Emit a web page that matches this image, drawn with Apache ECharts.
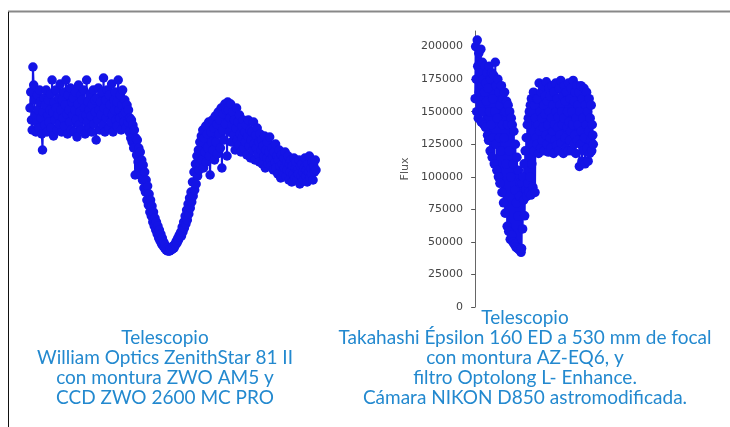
<!DOCTYPE html>
<html>
<head>
<meta charset="utf-8">
<script src="https://cdn.jsdelivr.net/npm/echarts@6/dist/echarts.min.js"></script>
<style>
  html, body { margin: 0; padding: 0; background: #fff; }
  #main { width: 730px; height: 427px; }
</style>
</head>
<body>
<div id="main"></div>
<script>
// left light curve (relative flux, no axes shown)
const leftFlux = [
  // out of eclipse
  152,168,140,130,193,175,160,145,128,138,165,150,132,170,158,142,126,110,148,162,
  135,155,170,128,145,160,138,150,166,132,180,148,124,158,140,170,152,130,145,162,
  136,176,150,128,160,142,168,134,155,180,146,126,165,150,138,172,130,158,145,162,
  128,150,168,140,123,156,175,135,148,165,130,160,142,170,152,126,145,180,138,158,
  150,132,166,144,128,155,170,136,160,148,120,162,140,172,150,130,158,145,168,135,
  182,152,128,160,142,170,148,132,165,155,138,176,145,128,160,150,168,140,134,158,
  180,150,142,165,130,155,170,145,138,160,
  // ingress
  148,132,155,138,150,128,142,122,140,118,135,112,130,85,122,105,120,98,112,92,
  108,85,100,80,95,72,88,68,80,60,74,55,66,48,60,44,54,38,48,34,
  42,30,38,26,34,22,30,19,26,16,22,14,18,12,15,10,12,9,10,9,
  // egress
  9,11,10,13,11,14,12,16,15,19,17,22,20,25,23,
  28,24,33,28,38,32,44,36,50,40,56,46,62,52,68,
  58,78,64,88,70,96,76,104,84,110,90,118,96,124,100,
  130,92,122,108,134,98,126,112,138,104,85,128,118,140,110,
  132,100,144,118,136,106,148,126,140,112,152,92,130,146,120,156,136,150,104,158,
  // after
  150,128,142,156,118,135,148,125,140,110,132,152,120,138,115,145,126,108,134,122,
  140,112,128,118,135,105,124,140,114,130,102,120,128,110,138,116,100,125,112,132,
  106,118,98,126,110,120,96,114,104,124,92,110,102,118,96,108,123,100,94,112,
  104,90,108,98,116,92,104,86,100,110,94,82,105,96,88,102,92,108,84,98,
  90,104,80,96,88,100,78,94,86,102,82,92,98,80,90,86,100,76,94,84,
  96,88,80,92,102,84,90,78,96,88,104,82,92,86,98,80,94,88,100,90
]

// right light curve, flux in thousands
const rightFlux = [
  // descent
  160,200,175,150,205,185,145,195,165,180,155,198,142,170,188,150,175,140,165,185,138,172,158,180,132,
  168,128,185,150,120,175,140,180,115,160,130,178,110,150,188,125,170,105,145,175,
  100,165,130,95,155,120,170,88,140,160,80,130,165,72,150,110,158,62,140,
  155,58,120,150,52,100,145,55,
  140,50,110,135,48,90,125,46,80,115,45,70,
  105,44,85,95,43,42,
  // rise
  45,95,60,100,82,110,70,120,90,130,85,140,95,145,88,150,100,155,86,160,
  110,150,92,165,120,155,88,145,130,160,
  // plateau
  125,160,140,118,172,135,150,122,165,145,128,170,138,155,120,162,148,132,173,125,
  158,140,119,168,150,130,162,122,145,170,135,155,118,165,140,128,172,150,124,160,
  138,146,120,168,132,155,174,126,150,140,162,118,145,170,130,158,122,165,138,150,
  120,172,142,128,160,135,168,120,150,140,174,125,158,132,165,118,145,170,128,155,
  140,165,108,150,125,170,135,112,160,145,120,168,130,110,155,140,165,122,150,112,
  135,160,118,145,128,155,120,140,132,125
]

const fluxTicks = [0, 25000, 50000, 75000, 100000, 125000, 150000, 175000, 200000]

const leftCaption = [
  "Telescopio",
  "William Optics ZenithStar 81 II",
  "con montura ZWO AM5 y",
  "CCD ZWO 2600 MC PRO"
]
const rightCaption = [
  "Telescopio",
  "Takahashi Épsilon 160 ED a 530 mm de focal",
  "con montura AZ-EQ6, y",
  "filtro Optolong L- Enhance.",
  "Cámara NIKON D850 astromodificada."
]

const blue = "#1414e6"
const capColor = "#2389cf"

const capText = (lines, x, y0) => lines.map((t, i) => ({
  type: "text",
  x: x, y: y0 + i * 20,
  style: { text: t, fill: capColor, font: "19px Lato", align: "center", verticalAlign: "middle" }
}))

const options = {
  animation: false,
  grid: [
    { left: 30, top: 60, width: 286, height: 200 },
    { left: 470, top: 31, width: 130, height: 276 }
  ],
  xAxis: [
    { type: "value", gridIndex: 0, min: 0, max: leftFlux.length - 1, show: false },
    { type: "value", gridIndex: 1, min: -10, max: 242, show: false }
  ],
  yAxis: [
    { type: "value", gridIndex: 0, min: 0, max: 200, show: false },
    {
      type: "value", gridIndex: 1, min: 0, max: 212000,
      name: "Flux", nameLocation: "middle", nameGap: 59,
      nameTextStyle: { color: "#555", fontSize: 11, fontFamily: "DejaVu Sans" },
      axisLine: { show: true, lineStyle: { color: "#666", width: 1 } },
      axisTick: { show: true, length: 4, lineStyle: { color: "#555" }, customValues: fluxTicks },
      axisLabel: {
        color: "#444", fontSize: 11, fontFamily: "DejaVu Sans", margin: 7,
        customValues: fluxTicks, formatter: v => String(v)
      },
      splitLine: { show: false }
    }
  ],
  series: [
    {
      type: "line", xAxisIndex: 0, yAxisIndex: 0,
      data: leftFlux.map((v, i) => [i, v]),
      symbol: "circle", symbolSize: 9.5, showAllSymbol: true,
      lineStyle: { color: blue, width: 2 },
      itemStyle: { color: blue }
    },
    {
      type: "line", xAxisIndex: 1, yAxisIndex: 1,
      data: rightFlux.map((v, i) => [i, v * 1000]),
      symbol: "circle", symbolSize: 9.5, showAllSymbol: true,
      lineStyle: { color: blue, width: 2 },
      itemStyle: { color: blue }
    }
  ],
  graphic: [
    { type: "line", shape: { x1: 8, y1: 11.5, x2: 730, y2: 11.5 }, style: { stroke: "#888", lineWidth: 2 } },
    { type: "line", shape: { x1: 8.5, y1: 12, x2: 8.5, y2: 427 }, style: { stroke: "#111", lineWidth: 1 } },
    ...capText(leftCaption, 165, 338),
    ...capText(rightCaption, 525, 318)
  ]
}

const chartContainer = document.getElementById("main")
const myChart = echarts.init(chartContainer)
myChart.setOption(options)
window.onresize = () => myChart.resize()
</script>
</body>
</html>
